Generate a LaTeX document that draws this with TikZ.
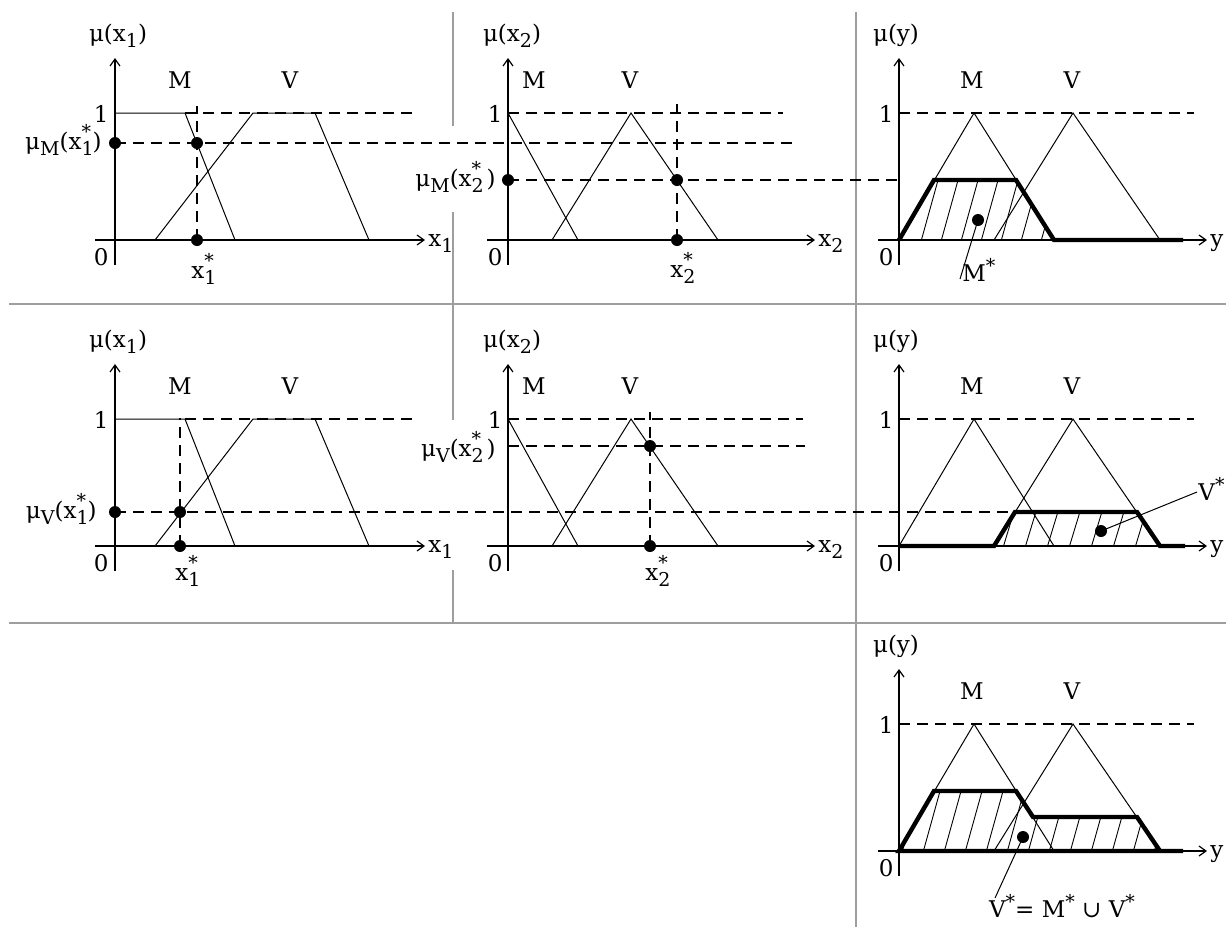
\documentclass[tikz,border=0pt]{standalone}
\usepackage{fontspec}
\setmainfont{DejaVu Serif}
\usetikzlibrary{arrows.meta}
\newcommand\smallf{\fontsize{9.5}{10}\selectfont}
\newcommand\lo[1]{\raisebox{-3.2pt}{\smallf #1}}
\newcommand\hi[1]{\raisebox{4.5pt}{\smallf #1}}
\newcommand\lohi[2]{\rlap{\raisebox{-3.2pt}{\smallf #1}}\raisebox{5.5pt}{\smallf #2}\hspace{0.8pt}}
\tikzset{
  lbl/.style={font=\fontsize{11.5}{13}\selectfont, inner sep=0pt},
  axis/.style={line width=0.75pt, -{Straight Barb[length=3.5pt,width=5pt,line width=0.6pt]}},
  mf/.style={line width=0.5pt},
  guide/.style={line width=0.6pt, dash pattern=on 5.5pt off 3.5pt},
  clipped/.style={line width=2.2pt, line join=miter},
  hatch/.style={line width=0.45pt},
  sep/.style={line width=0.9pt, draw=black!38},
  pt/.style={circle, fill, inner sep=0pt, minimum size=6pt},
}
% panel A (input x1), #1 = suffix, #2 = y offset
\newcommand\panelA[2]{%
  \begin{scope}[shift={(0,#2)}]
    \draw[mf] (115,113) -- (185,113) -- (235,240);
    \draw[mf] (155,240) -- (253,113) -- (315,113) -- (369,240);
    \draw[guide] (185,113) -- (412,113);
    \draw[axis] (115,265) -- (115,58);
    \draw[axis] (95,240) -- (425,240);
    \node[lbl,anchor=base] (muA#1) at (118,41) {μ(x\lo{1})};
    \node[lbl,anchor=base] (MA#1) at (180,88) {M};
    \node[lbl,anchor=base] (VA#1) at (290,88) {V};
    \node[lbl,anchor=base east] (oneA#1) at (109,122) {1};
    \node[lbl,anchor=base east] (zeroA#1) at (109,265) {0};
    \node[lbl,anchor=base west] (xA#1) at (428,246) {x\lo{1}};
  \end{scope}}
% panel B (input x2), #1 suffix, #2 offset, #3 end of the dashed line at 1
\newcommand\panelB[3]{%
  \begin{scope}[shift={(0,#2)}]
    \draw[mf] (508,113) -- (578,240);
    \draw[mf] (552,240) -- (631,113) -- (718,240);
    \draw[guide] (508,113) -- (#3,113);
    \draw[axis] (508,265) -- (508,58);
    \draw[axis] (487,240) -- (815,240);
    \node[lbl,anchor=base] (muB#1) at (512,41) {μ(x\lo{2})};
    \node[lbl,anchor=base] (MB#1) at (534,88) {M};
    \node[lbl,anchor=base] (VB#1) at (630,88) {V};
    \node[lbl,anchor=base east] (oneB#1) at (503,122) {1};
    \node[lbl,anchor=base east] (zeroB#1) at (503,265) {0};
    \node[lbl,anchor=base west] (xB#1) at (818,246) {x\lo{2}};
  \end{scope}}
% panel C (output y), #1 suffix, #2 offset
\newcommand\panelC[2]{%
  \begin{scope}[shift={(0,#2)}]
    \draw[mf] (899,240) -- (974,113) -- (1054,240);
    \draw[mf] (994,240) -- (1073,113) -- (1160,240);
    \draw[guide] (899,113) -- (1194,113);
    \draw[axis] (899,265) -- (899,58);
    \draw[axis] (878,240) -- (1207,240);
    \node[lbl,anchor=base] (muC#1) at (896,41) {μ(y)};
    \node[lbl,anchor=base] (MC#1) at (972,88) {M};
    \node[lbl,anchor=base] (VC#1) at (1072,88) {V};
    \node[lbl,anchor=base east] (oneC#1) at (894,122) {1};
    \node[lbl,anchor=base east] (zeroC#1) at (894,265) {0};
    \node[lbl,anchor=base west] (yC#1) at (1210,246) {y};
  \end{scope}}
\begin{document}
\begin{tikzpicture}[x=0.5pt,y=-0.5pt]
  \useasboundingbox (0,0) rectangle (1226,927);
  \fill[white] (0,0) rectangle (1226,927);
  % separators
  \draw[sep] (9,304) -- (1226,304);
  \draw[sep] (9,623) -- (1226,623);
  \draw[sep] (453,12) -- (453,126);
  \draw[sep] (453,212) -- (453,420);
  \draw[sep] (453,570) -- (453,623);
  \draw[sep] (856,12) -- (856,927);

  % ---------- row 1 ----------
  \panelA{1}{0}
  \panelB{1}{0}{783}
  \panelC{1}{0}
  \draw[guide] (115,143) -- (793,143);
  \draw[guide] (197,240) -- (197,106);
  \draw[guide] (508,180) -- (899,180);
  \draw[guide] (677,240) -- (677,104);
  \begin{scope}
    \clip (899,240) -- (934,180) -- (1016,180) -- (1054,240) -- cycle;
    \foreach \k in {0,...,10} \draw[hatch] (880+20*\k,245) -- ++(20,-72);
  \end{scope}
  \draw[clipped] (899,240) -- (934,180) -- (1016,180) -- (1054,240) -- (1183,240);
  \node[pt] (dA1a) at (115,143) {};
  \node[pt] (dA1b) at (197,143) {};
  \node[pt] (dA1c) at (197,240) {};
  \node[pt] (dB1a) at (508,180) {};
  \node[pt] (dB1b) at (677,180) {};
  \node[pt] (dB1c) at (677,240) {};
  \node[pt] (dC1) at (978,220) {};
  \coordinate (eC1) at (960,279);
  \draw[mf] (dC1.center) -- (eC1);
  \node[lbl,anchor=base west] (lC1) at (962,281) {M\hi{*}};
  \node[lbl,anchor=base west] (x1s1) at (191,278) {x\lohi{1}{*}};
  \node[lbl,anchor=base west] (x2s1) at (670,277) {x\lohi{2}{*}};
  \node[lbl,anchor=base east] (muM1) at (102,149) {μ\lo{M}(x\lohi{1}{*})};
  \node[lbl,anchor=base east] (muM2) at (496,186) {μ\lo{M}(x\lohi{2}{*}\,)};

  % ---------- row 2 ----------
  \panelA{2}{306}
  \panelB{2}{306}{803}
  \panelC{2}{306}
  \draw[guide] (180,546) -- (180,418);
  \draw[guide] (115,512) -- (1015,512);
  \draw[guide] (508,446) -- (805,446);
  \draw[guide] (650,546) -- (650,412);
  \begin{scope}
    \clip (994,546) -- (1015,512) -- (1137,512) -- (1160,546) -- cycle;
    \foreach \k in {0,...,9} \draw[hatch] (980+22*\k,551) -- ++(14,-46);
  \end{scope}
  \draw[clipped] (899,546) -- (994,546) -- (1015,512) -- (1137,512) -- (1160,546) -- (1185,546);
  \node[pt] (dA2a) at (115,512) {};
  \node[pt] (dA2b) at (180,512) {};
  \node[pt] (dA2c) at (180,546) {};
  \node[pt] (dB2b) at (650,446) {};
  \node[pt] (dB2c) at (650,546) {};
  \node[pt] (dC2) at (1101,531) {};
  \coordinate (eC2) at (1197,492);
  \draw[mf] (dC2.center) -- (eC2);
  \node[lbl,anchor=base west] (lC2) at (1198,500) {V\hi{*}};
  \node[lbl,anchor=base west] (x1s2) at (175,580) {x\lohi{1}{*}};
  \node[lbl,anchor=base west] (x2s2) at (645,580) {x\lohi{2}{*}};
  \node[lbl,anchor=base east] (muV1) at (97,518) {μ\lo{V}(x\lohi{1}{*})};
  \node[lbl,anchor=base east] (muV2) at (496,456) {μ\lo{V}(x\lohi{2}{*}\,)};

  % ---------- row 3 ----------
  \panelC{3}{611}
  \begin{scope}
    \clip (899,851) -- (934,791) -- (1016,791) -- (1033,817) -- (1137,817) -- (1160,851) -- cycle;
    \foreach \k in {0,...,14} \draw[hatch] (880+21*\k,856) -- ++(20,-72);
  \end{scope}
  \draw[clipped] (1183,851) -- (899,851) -- (934,791) -- (1016,791) -- (1033,817) -- (1137,817) -- (1160,851);
  \node[pt] (dC3) at (1023,837) {};
  \coordinate (eC3) at (995,898);
  \draw[mf] (dC3.center) -- (eC3);
  \node[lbl,anchor=base] (lC3) at (1062,917) {V\hi{*}= M\hi{*} ∪ V\hi{*}};
\end{tikzpicture}
\end{document}
